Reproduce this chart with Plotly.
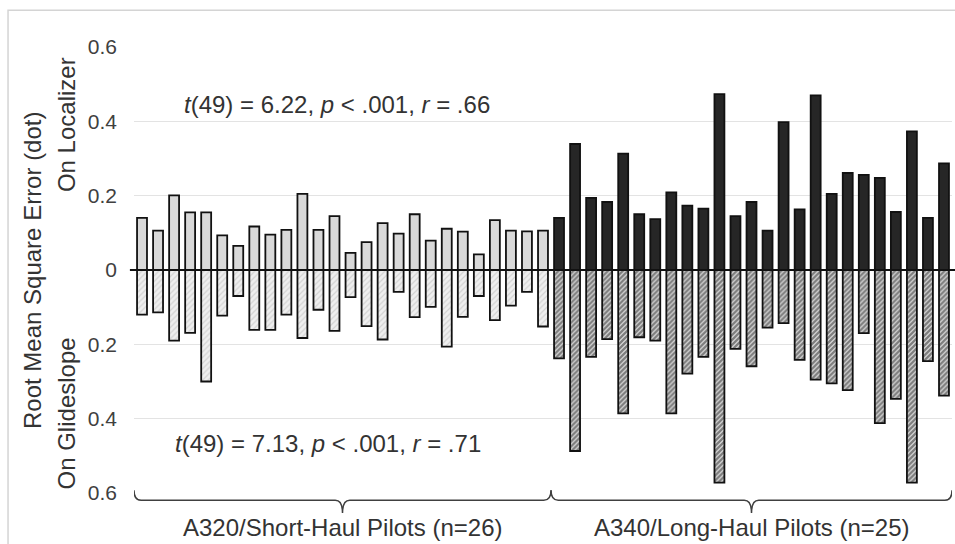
import plotly.graph_objects as go

# ---- data ----
pilots_short = list(range(1, 27))
pilots_long = list(range(27, 52))

localizer_short = [0.140, 0.106, 0.201, 0.155, 0.155, 0.093, 0.065, 0.117, 0.095, 0.108,
                   0.205, 0.108, 0.145, 0.046, 0.075, 0.126, 0.098, 0.150, 0.079, 0.111,
                   0.103, 0.042, 0.134, 0.106, 0.104, 0.106]
glideslope_short = [0.120, 0.114, 0.190, 0.169, 0.300, 0.123, 0.070, 0.161, 0.161, 0.120,
                    0.183, 0.107, 0.164, 0.073, 0.151, 0.187, 0.059, 0.127, 0.099, 0.206,
                    0.126, 0.070, 0.135, 0.096, 0.059, 0.152]
localizer_long = [0.140, 0.339, 0.194, 0.183, 0.313, 0.150, 0.137, 0.209, 0.173, 0.165,
                  0.473, 0.145, 0.183, 0.106, 0.398, 0.163, 0.470, 0.205, 0.261, 0.256,
                  0.248, 0.156, 0.373, 0.140, 0.287]
glideslope_long = [0.238, 0.487, 0.234, 0.186, 0.386, 0.181, 0.190, 0.386, 0.279, 0.234,
                   0.572, 0.212, 0.259, 0.155, 0.143, 0.242, 0.295, 0.305, 0.323, 0.170,
                   0.412, 0.347, 0.572, 0.245, 0.338]

tick_vals = [0.6, 0.4, 0.2, 0, -0.2, -0.4, -0.6]
tick_text = ["0.6", "0.4", "0.2", "0", "0.2", "0.4", "0.6"]

group_labels = ["A320/Short-Haul Pilots (n=26)", "A340/Long-Haul Pilots (n=25)"]
stat_localizer = "<i>t</i>(49) = 6.22, <i>p</i> &lt; .001, <i>r</i> = .66"
stat_glideslope = "<i>t</i>(49) = 7.13, <i>p</i> &lt; .001, <i>r</i> = .71"

FONT = "Liberation Sans, Arial, sans-serif"
TXT = "#333333"
BW = 0.62
LINE = dict(color="#111111", width=1.8)

fig = go.Figure()
fig.add_trace(go.Bar(x=pilots_short, y=localizer_short, width=BW,
                     marker=dict(color="#d9d9d9", line=LINE), showlegend=False))
fig.add_trace(go.Bar(x=pilots_long, y=localizer_long, width=BW,
                     marker=dict(color="#262626", line=LINE), showlegend=False))
fig.add_trace(go.Bar(x=pilots_short, y=[-v for v in glideslope_short], width=BW,
                     marker=dict(color="#ededed", line=LINE,
                                 pattern=dict(shape="/", bgcolor="#efefef", fgcolor="#b5b5b5",
                                              size=4, solidity=0.3)),
                     showlegend=False))
fig.add_trace(go.Bar(x=pilots_long, y=[-v for v in glideslope_long], width=BW,
                     marker=dict(color="#333333", line=LINE,
                                 pattern=dict(shape="/", bgcolor="#e8e8e8", fgcolor="#141414",
                                              size=3.5, solidity=0.7)),
                     showlegend=False))

# zero line drawn above bars
fig.add_shape(type="line", xref="paper", yref="y", x0=-0.005, x1=1.004, y0=0, y1=0,
              line=dict(color="#111111", width=2), layer="above")


def brace(xa, xb, xm):
    yt, yl, ym = 0.006, -0.0164, -0.045
    d = 0.45
    return (f"M {xa},{yt} Q {xa},{yl} {xa + d},{yl} L {xm - d},{yl} "
            f"Q {xm},{yl} {xm},{ym} Q {xm},{yl} {xm + d},{yl} "
            f"L {xb - d},{yl} Q {xb},{yl} {xb},{yt}")


fig.add_shape(type="path", xref="x", yref="paper", path=brace(0.5, 26.5, 13.5),
              line=dict(color="#404040", width=1.5))
fig.add_shape(type="path", xref="x", yref="paper", path=brace(26.5, 51.5, 39.0),
              line=dict(color="#404040", width=1.5))

# outer light border
fig.add_shape(type="rect", xref="paper", yref="paper", x0=-0.154, x1=1.02, y0=-0.2, y1=1.0823,
              line=dict(color="#d4d4d4", width=1.5), layer="below")

ann_font = dict(family=FONT, size=24, color=TXT)
fig.add_annotation(x=13.5, y=-0.078, xref="x", yref="paper", text=group_labels[0],
                   showarrow=False, font=ann_font, xanchor="center", yanchor="middle")
fig.add_annotation(x=39.0, y=-0.078, xref="x", yref="paper", text=group_labels[1],
                   showarrow=False, font=ann_font, xanchor="center", yanchor="middle")
fig.add_annotation(x=13.16, y=0.446, xref="x", yref="y", text=stat_localizer,
                   showarrow=False, font=ann_font, xanchor="center", yanchor="middle")
fig.add_annotation(x=12.6, y=-0.466, xref="x", yref="y", text=stat_glideslope,
                   showarrow=False, font=ann_font, xanchor="center", yanchor="middle")

fig.add_annotation(x=-0.1247, y=0.5, xref="paper", yref="paper",
                   text="Root Mean Square Error (dot)", textangle=-90, showarrow=False,
                   font=ann_font, xanchor="center", yanchor="middle")
fig.add_annotation(x=-0.0831, y=0.39, xref="paper", yref="y", text="On Localizer",
                   textangle=-90, showarrow=False, font=ann_font,
                   xanchor="center", yanchor="middle")
fig.add_annotation(x=-0.0831, y=-0.386, xref="paper", yref="y", text="On Glideslope",
                   textangle=-90, showarrow=False, font=ann_font,
                   xanchor="center", yanchor="middle")

fig.update_layout(
    width=955, height=544, autosize=False,
    margin=dict(l=134, r=3, t=47, b=51),
    paper_bgcolor="white", plot_bgcolor="white",
    barmode="relative",
    font=dict(family=FONT, color=TXT),
)
fig.update_xaxes(range=[0.5, 51.5], showticklabels=False, showgrid=False, zeroline=False,
                 showline=False, ticks="")
fig.update_yaxes(range=[-0.6, 0.6], tickvals=tick_vals, ticktext=tick_text,
                 showgrid=True, gridcolor="#e3e3e3", gridwidth=1, zeroline=False,
                 showline=False, ticks="", ticklabelstandoff=16,
                 tickfont=dict(family=FONT, size=21, color="#404040"))

fig.write_html("out.html")
